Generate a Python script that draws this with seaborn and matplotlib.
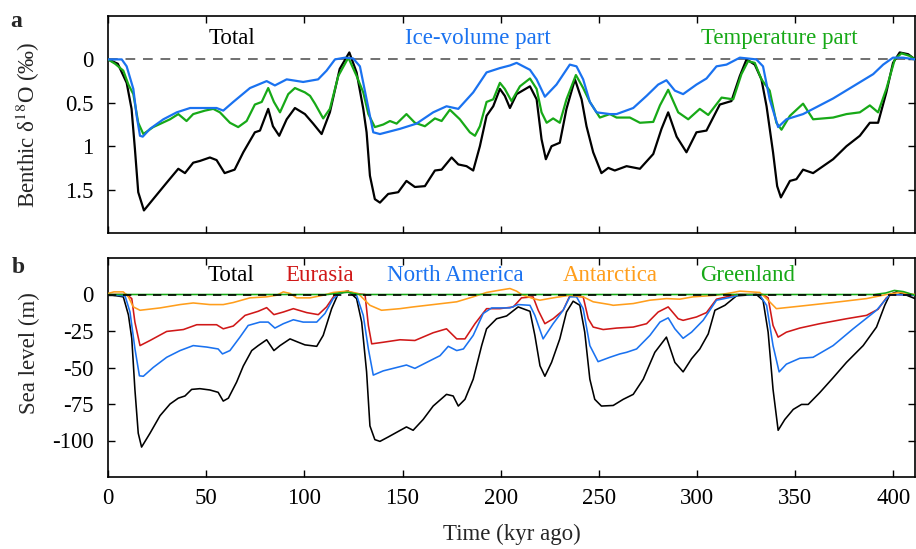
import numpy as np
import pandas as pd
import matplotlib
matplotlib.use("Agg")
import matplotlib.pyplot as plt
import seaborn as sns

# ---------------- Panel a: benthic d18O (per mil) ----------------
a_total_t = [0, 5, 9.5, 12, 13.7, 15.4, 18.3, 23, 29.9, 35.8, 39.2, 43.4, 46.8, 51.9, 55.3, 59.4, 64.5, 68.9, 74.8, 77.4,
             81.6, 84, 87.2, 91, 95.2, 100.3, 104.5, 108.8, 113, 118, 122.9, 126.6, 130, 131.7, 133.4, 135.9, 138.5, 142.7, 147.8, 152,
             156.3, 161.4, 166.5, 169.9, 175, 178.4, 182.6, 186, 189.4, 192.8, 196.2, 199.6, 202.1, 204.7, 208.1, 214.9, 218.3, 220.8, 223, 225.9,
             230.1, 233.5, 237.8, 241.2, 243.7, 247.1, 251.3, 254.8, 258.1, 264.1, 270.9, 277.7, 281.9, 285.3, 289.6, 294.6, 299.7, 304.8, 311.6, 317.5,
             321.8, 325.2, 329.4, 332.8, 335.4, 338.7, 340.8, 342.7, 347.3, 350.6, 354, 359.1, 364.2, 369.3, 376.1, 382.9, 388, 392.2, 396.4, 399.8,
             403.2, 407.5, 411]
a_total_v = [0, 0.05, 0.27, 0.57, 1.03, 1.53, 1.74, 1.61, 1.42, 1.26, 1.31, 1.19, 1.17, 1.13, 1.16, 1.31, 1.27, 1.07, 0.84, 0.82,
             0.57, 0.77, 0.88, 0.69, 0.56, 0.63, 0.74, 0.86, 0.61, 0.11, -0.08, 0.15, 0.57, 0.84, 1.34, 1.61, 1.65, 1.55, 1.53, 1.40,
             1.47, 1.46, 1.28, 1.27, 1.13, 1.21, 1.23, 1.28, 1.0, 0.65, 0.54, 0.34, 0.42, 0.56, 0.40, 0.31, 0.46, 0.92, 1.15, 1.0,
             0.96, 0.57, 0.23, 0.46, 0.77, 1.07, 1.31, 1.25, 1.28, 1.23, 1.26, 1.09, 0.80, 0.61, 0.89, 1.07, 0.84, 0.82, 0.52, 0.48,
             0.19, 0.0, 0.06, 0.23, 0.54, 1.07, 1.46, 1.59, 1.40, 1.38, 1.27, 1.31, 1.23, 1.15, 1.0, 0.88, 0.73, 0.73, 0.38, 0.04,
             -0.08, -0.06, 0.0]

a_ice_t = [0, 7, 9.5, 12.9, 14.6, 16.3, 17.7, 21.4, 28.2, 35, 41.8, 55.3, 58.7, 63.8, 72.3, 80.8, 85, 91, 99.4, 107,
           111.3, 115.6, 120.7, 124.9, 128.3, 131.7, 135.1, 138.5, 148.7, 157.1, 165.6, 172.4, 178.4, 186, 192.8, 199.6, 204.7, 208.1, 214.9, 218.3,
           222.5, 228.4, 235.2, 238.6, 242, 245.4, 248.8, 255.6, 259, 267.5, 274.3, 280.2, 284.4, 288.7, 292.9, 299.7, 304.8, 309.9, 315, 321.8,
           330.2, 333.6, 337, 341.3, 345.5, 354, 369.3, 389.7, 394.8, 399.8, 404.9, 411]
a_ice_v = [0, 0.0, 0.08, 0.34, 0.65, 0.88, 0.89, 0.80, 0.69, 0.61, 0.56, 0.56, 0.59, 0.49, 0.33, 0.25, 0.30, 0.23, 0.26, 0.23,
           0.13, 0.0, -0.02, -0.01, 0.08, 0.46, 0.84, 0.86, 0.80, 0.74, 0.61, 0.54, 0.57, 0.38, 0.15, 0.10, 0.07, 0.04, 0.12, 0.23,
           0.43, 0.29, 0.06, 0.08, 0.23, 0.49, 0.61, 0.63, 0.63, 0.56, 0.42, 0.29, 0.24, 0.36, 0.40, 0.29, 0.22, 0.08, 0.06, -0.02,
           0.0, 0.08, 0.46, 0.78, 0.69, 0.63, 0.45, 0.17, 0.06, -0.02, -0.02, 0.0]

a_temp_t = [0, 3.6, 7.8, 10.4, 12.9, 15.4, 18, 23, 31.6, 35.8, 40, 43.4, 49.4, 53.6, 57, 62.1, 66.3, 70.6, 74.8, 78.3,
            81.6, 84.5, 87.6, 91.8, 95.2, 100.3, 102.9, 105.4, 109.6, 113, 117.3, 122.4, 126.6, 130, 132.6, 135.9, 140.2, 143.6, 147, 152,
            156.3, 161.4, 166.5, 169.9, 174.1, 179.2, 184.3, 186.9, 189.4, 192.8, 196.2, 199.6, 202.1, 205.5, 209.8, 214.9, 218.3, 220.8, 223.4, 226.7,
            230.1, 233.5, 238.3, 242, 245.4, 250.5, 255.6, 259, 265.8, 270.9, 277.7, 281.1, 285.3, 290.4, 295.5, 301.4, 305.7, 312.5, 318.4, 322.6,
            326, 329.4, 332.8, 337, 340.4, 343, 347.3, 354, 359.1, 369.3, 376.1, 382.9, 388, 392.2, 396.4, 400.7, 404.1, 408.3, 411]
a_temp_v = [0, 0.05, 0.13, 0.29, 0.40, 0.73, 0.86, 0.78, 0.69, 0.63, 0.71, 0.63, 0.59, 0.57, 0.61, 0.73, 0.78, 0.71, 0.52, 0.49,
            0.33, 0.49, 0.61, 0.40, 0.33, 0.38, 0.42, 0.51, 0.68, 0.57, 0.19, -0.02, 0.19, 0.38, 0.63, 0.78, 0.75, 0.71, 0.74, 0.63,
            0.73, 0.77, 0.68, 0.71, 0.58, 0.69, 0.84, 0.88, 0.77, 0.49, 0.46, 0.27, 0.34, 0.48, 0.31, 0.22, 0.34, 0.61, 0.73, 0.68,
            0.73, 0.46, 0.18, 0.33, 0.49, 0.67, 0.63, 0.67, 0.67, 0.73, 0.72, 0.53, 0.35, 0.61, 0.69, 0.57, 0.64, 0.44, 0.46, 0.17,
            0.02, 0.04, 0.23, 0.36, 0.73, 0.81, 0.65, 0.51, 0.69, 0.67, 0.63, 0.61, 0.53, 0.61, 0.34, 0.0, -0.07, -0.04, 0.0]

# ---------------- Panel b: sea level (m) ----------------
b_total_t = [0, 7.8, 10.4, 12.1, 13.7, 15.4, 17.1, 21.4, 26.5, 31.6, 35.8, 39.2, 42.6, 46.8, 51.9, 56.1, 58.7, 61.3, 65.5, 68.9,
             73.2, 76.5, 80.8, 84.5, 87.6, 92.7, 96.9, 100.3, 106.3, 109.6, 113.9, 117.3, 122.4, 126.6, 129.2, 131.7, 133.4, 135.9, 138.5, 142.7,
             147, 152, 155.4, 160.5, 165.6, 172.4, 175.8, 178.4, 181.8, 186, 190.3, 192.8, 197.9, 203, 208.9, 214.9, 217.4, 220, 222.5, 225.9,
             230.1, 233.5, 236.9, 240.3, 242.8, 245.4, 247.9, 251.3, 257.3, 262.4, 267.5, 272.6, 278.5, 284.4, 288.7, 292.9, 297.2, 301.4, 305.7, 309.1,
             314.2, 320.1, 330.2, 333.6, 336.2, 338.7, 341.3, 344.7, 349, 353.2, 356.6, 362.5, 369.3, 376.1, 384.6, 391.4, 395.6, 398.2, 401.6, 405.8,
             411]
b_total_v = [0, -1.6, -14, -30, -65, -95, -104.5, -95, -83, -75, -71, -69.5, -65, -64.5, -65.4, -67, -73, -71, -60, -49,
             -38.4, -35, -31, -38.4, -35, -30.4, -32.7, -34.5, -35.5, -28, -9.7, 0.7, 2.3, -2.8, -18.9, -53, -90, -99.4, -100.6, -97.6,
             -94.4, -90.7, -93, -85.6, -76.4, -68.4, -69.5, -76.4, -71.8, -58, -35, -23.5, -16.6, -14.7, -8.5, -11.5, -28, -48.8, -56, -46.5,
             -30.4, -12, -4.6, -7.4, -25.8, -58, -71.8, -76.4, -76, -71.8, -68.4, -58, -39.6, -29.2, -46.5, -53, -44, -37.3, -27, -10.8,
             -7.4, -0.9, 0, -3.9, -25.8, -65, -93, -85.6, -78.7, -75.3, -75.3, -67.2, -57, -46.5, -35, -22.3, -7.4, 0, 1.8, 0,
             -2.8]

b_eur_t = [0, 9.5, 12.1, 13.7, 16.3, 21.4, 29.9, 38.4, 45.2, 55.3, 58.7, 63.8, 69.8, 76.5, 80.8, 84.5, 89.3, 94.4, 101.2, 107.1,
           111.3, 115.6, 121.6, 126.6, 130.9, 132.6, 134.3, 140.2, 148.7, 156.3, 165.6, 172.4, 177.6, 181.8, 186.9, 192.8, 199.6, 206.4, 210.6, 216.5,
           219.1, 222.5, 226.7, 231.8, 235.2, 242, 244.6, 247.1, 252.2, 259, 267.5, 274.3, 280.2, 285.3, 290.4, 292.9, 299.7, 304.8, 309.9, 320.1,
           333.6, 336.2, 338.7, 341.3, 345.5, 352.3, 362.5, 376.1, 386.3, 392.2, 396.4, 398.9, 411]
b_eur_v = [0, 0, -2.8, -18.9, -35, -31.5, -25.3, -24, -20.7, -20.7, -23.5, -21.6, -14.3, -11.5, -9, -13.8, -12, -9.7, -12.4, -13.8,
           -8.5, 0, 2.3, 0.5, 0, -21.2, -33.8, -32.7, -31, -31.5, -26.2, -23.5, -30.4, -30.4, -20, -9.7, -9.7, -8.5, -2.3, -1.6,
           -10.8, -20, -16.6, -10.8, -0.9, -1.6, -16.6, -22.3, -24, -23, -22.3, -20, -12, -8.5, -16.6, -17.7, -15.4, -12.4, -3.2, 0,
           0, -2.3, -21.2, -29.2, -25.8, -23, -20, -16.6, -14.3, -10.1, -2.3, 0, -0.5]

b_nam_t = [0, 8.7, 11.2, 13.7, 16, 18, 23, 29.9, 36.7, 43.4, 50.3, 56.1, 58.3, 62.1, 67.2, 71.4, 77.4, 81.6, 85, 89.3,
           94.4, 99.4, 106.3, 110.5, 114.7, 119, 122.4, 126.6, 130, 132.6, 135.1, 140.2, 147, 152, 156.3, 162.3, 169.1, 173.3, 177.6, 181,
           186, 191.1, 195.4, 204.7, 208.9, 214.9, 217.4, 221.6, 226.7, 231.8, 235.2, 238.6, 242, 245.4, 249.6, 255.6, 260.7, 264.1, 269.2, 276,
           281.1, 285.3, 288.7, 292.9, 297.2, 303.1, 309.9, 318.4, 321.8, 332, 335.4, 338.7, 341.8, 345.5, 352.3, 359.1, 369.3, 379.5, 391.4, 398.2,
           411]
b_nam_v = [0, -1, -12, -37, -55.7, -56, -50, -43, -38.4, -35, -36, -37.3, -40.7, -38.4, -29.2, -21.2, -18.9, -18.9, -23, -20,
           -17.3, -18.9, -18.9, -13, -2.8, 1.4, 1.8, -0.5, -14.3, -37.3, -55.2, -52.3, -50, -48.3, -50.6, -46.5, -41.9, -35.5, -38.4, -37.3,
           -28, -13, -9.2, -9.2, -6.9, -7.4, -14.3, -30.4, -20, -10.8, -1.6, -1.6, -9.7, -35, -46, -43, -40.7, -39.6, -37.3, -28,
           -18.9, -16, -23.5, -30, -25.8, -17.7, -3.9, -1.6, 0, -0.5, -7.4, -35, -53, -47.7, -43.7, -43, -35, -23.5, -10.8, 0,
           -0.5]

b_ant_t = [0, 3, 7.8, 10.4, 12.9, 16.3, 26.5, 36.7, 43.4, 51.9, 58.7, 63.8, 72.3, 80.8, 85.9, 89.3, 92.7, 96.1, 102.9, 109.6,
           114.7, 121.6, 127.4, 133.4, 139.3, 148.7, 155.4, 165.6, 177.6, 186, 192.8, 199.6, 204.7, 208.1, 210.6, 216.5, 220, 226.7, 235.2, 242,
           247.1, 255.6, 257.3, 267.5, 276, 284.4, 291.2, 298, 309.9, 318.4, 321.8, 332, 335.4, 340.4, 352.3, 369.3, 386.3, 396.4, 403.2, 411]
b_ant_v = [0.7, 1.8, 1.8, -1.6, -8.5, -10.8, -9.2, -6.9, -5.8, -6.9, -6.9, -5.5, -2.3, -1.6, -0.5, 1.8, 0.7, -2.3, -2.3, -0.5,
           1.4, 2.3, 0.7, -7.4, -10.8, -9.7, -8.5, -6.9, -5, -1.6, 1.4, 3, 4.1, 2.3, 0, -2.8, -3.9, -2.3, -0.5, -1.6,
           -5, -6.9, -7.4, -6.2, -3.9, -2.8, -3.2, -1.6, -0.5, 1.4, 2.3, 1.4, -2.8, -9.7, -8, -5.5, -2.8, 0, 1.4, 0]

b_grl_t = [0, 112, 118, 122, 128, 390, 396, 400.5, 405, 411]
b_grl_v = [0, 0, 1, 1.5, 0, 0, 1, 2.8, 2, -0.5]

a_names = ["Total", "Ice-volume part", "Temperature part"]
b_names = ["Total", "Eurasia", "North America", "Antarctica", "Greenland"]
x_ticks = [0, 50, 100, 150, 200, 250, 300, 350, 400]
a_yticks = [0, 0.5, 1, 1.5]
a_yticklabels = ["0", "0.5", "1", "1.5"]
b_yticks = [0, -25, -50, -75, -100]
b_yticklabels = ["0", "-25", "-50", "-75", "-100"]

# ---------------- style ----------------
sns.set_style("ticks")
plt.rcParams["font.family"] = ["Liberation Serif", "DejaVu Serif"]
plt.rcParams["mathtext.fontset"] = "stix"
plt.rcParams["axes.unicode_minus"] = False

BLACK = "#000000"
BLUE = "#1a72f0"
GREEN = "#17a917"
RED = "#d01818"
ORANGE = "#ff9e1c"
FS = 16.5

a_pal = {"Total": BLACK, "Ice-volume part": BLUE, "Temperature part": GREEN}
b_pal = {"Total": BLACK, "Eurasia": RED, "North America": BLUE, "Antarctica": ORANGE, "Greenland": GREEN}


def long_df(pairs, names):
    frames = []
    for (t, v), n in zip(pairs, names):
        assert len(t) == len(v), n
        frames.append(pd.DataFrame({"t": t, "v": v, "series": n}))
    return pd.concat(frames, ignore_index=True)


df_a = long_df([(a_total_t, a_total_v), (a_ice_t, a_ice_v), (a_temp_t, a_temp_v)], a_names)
df_b = long_df([(b_total_t, b_total_v), (b_eur_t, b_eur_v), (b_nam_t, b_nam_v),
                (b_ant_t, b_ant_v), (b_grl_t, b_grl_v)], b_names)

W, H = 916, 549
fig = plt.figure(figsize=(W / 100, H / 100), dpi=100)
L, R = 108, 915
ax_a = fig.add_axes([L / W, 1 - 233 / H, (R - L) / W, (233 - 16) / H])
ax_b = fig.add_axes([L / W, 1 - 477 / H, (R - L) / W, (477 - 258) / H])

# panel a
ax_a.axhline(0, color="#707070", lw=1.4, ls=(0, (5, 4)), zorder=1)
sns.lineplot(data=df_a, x="t", y="v", hue="series", hue_order=["Total", "Temperature part", "Ice-volume part"],
             palette=a_pal, estimator=None, sort=False, lw=1.6, legend=False, ax=ax_a, zorder=3)
ax_a.set_xlim(0, 411)
ax_a.set_ylim(2.0, -0.5)
ax_a.set_xticks(x_ticks)
ax_a.set_yticks(a_yticks)
ax_a.set_yticklabels(a_yticklabels)
ax_a.set_xlabel("")
ax_a.set_ylabel("Benthic δ$^{18}$O (‰)", fontsize=FS)
ax_a.yaxis.set_label_coords(-0.082, 0.5)
ax_a.tick_params(axis="x", labelbottom=False)

a_label_x = [63, 188.5, 342]
for name, xx in zip(["Total", "Ice-volume part", "Temperature part"], a_label_x):
    ax_a.text(xx, -0.24, name, color=a_pal[name], fontsize=FS, ha="center", va="center")

# panel b
ax_b.axhline(0, color="black", lw=1.2, ls=(0, (5, 4)), zorder=5)
sns.lineplot(data=df_b, x="t", y="v", hue="series", hue_order=b_names,
             palette=b_pal, estimator=None, sort=False, lw=1.15, legend=False, ax=ax_b, zorder=3)
ax_b.set_xlim(0, 411)
ax_b.set_ylim(-125, 25)
ax_b.set_xticks(x_ticks)
ax_b.set_xticklabels([str(x) for x in x_ticks])
ax_b.set_yticks(b_yticks)
ax_b.set_yticklabels(b_yticklabels)
ax_b.set_xlabel("Time (kyr ago)", fontsize=FS)
ax_b.xaxis.set_label_coords(0.5, -0.215)
ax_b.set_ylabel("Sea level (m)", fontsize=FS)
ax_b.yaxis.set_label_coords(-0.084, 0.565)

b_label_x = [62.6, 108, 176.7, 256, 326]
for name, xx in zip(b_names, b_label_x):
    ax_b.text(xx, 13.3, name, color=b_pal[name], fontsize=FS, ha="center", va="center")

for ax in (ax_a, ax_b):
    for s in ax.spines.values():
        s.set_visible(True)
        s.set_linewidth(1.2)
        s.set_color("black")
    ax.tick_params(direction="in", length=5, width=1.0, top=True, right=True,
                   labelsize=FS, colors="black")
    ax.tick_params(axis="y", pad=10.5)
    ax.tick_params(axis="x", pad=8)
    ax.set_facecolor("white")

fig.text(10 / W, 1 - 27 / H, "a", fontsize=17, fontweight="bold", ha="left", va="baseline")
fig.text(12 / W, 1 - 273 / H, "b", fontsize=17, fontweight="bold", ha="left", va="baseline")

fig.savefig("out.png", dpi=100, facecolor="white")
